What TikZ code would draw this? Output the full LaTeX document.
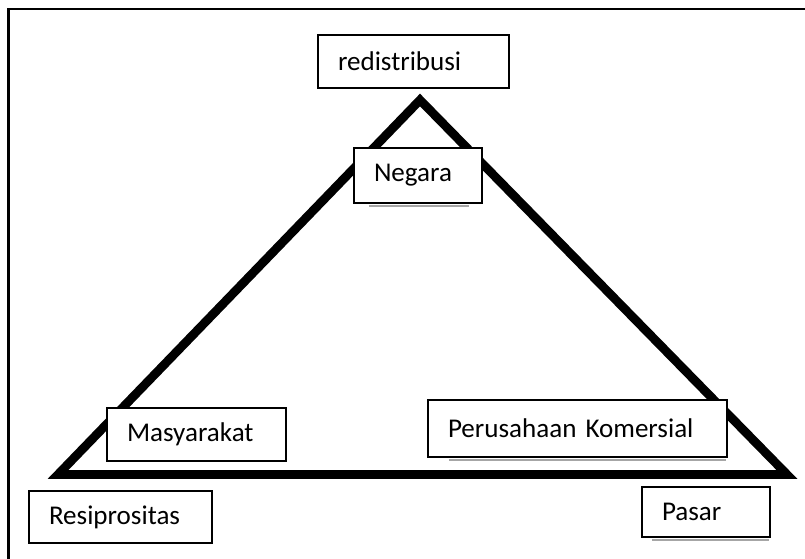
\documentclass[tikz,border=0pt]{standalone}
\usepackage{fontspec}
\setmainfont{Carlito}
\begin{document}
\begin{tikzpicture}[x=0.75pt,y=-0.75pt]
\tikzset{
  lblbox/.style={draw=black, line width=1.1pt, fill=white, inner xsep=15pt, inner ysep=0pt,
    align=left, font=\fontsize{20.3}{24}\selectfont, anchor=center},
  tri/.style={draw=black, line width=6.6pt, line join=miter, miter limit=20},
  frame/.style={draw=black, line width=1.6pt},
  shade/.style={draw=black!35, line width=1.5pt}
}
\useasboundingbox (0,0) rectangle (805,559);
\draw[frame] (805,9) -- (8.5,9) -- (8.5,559);
\coordinate (apex) at (420,100);
\coordinate (bl) at (58,474.5);
\coordinate (br) at (787,474.5);
\draw[tri] (apex) -- (br) -- (bl) -- cycle;
\node[lblbox, text width=113.25pt, minimum height=39.75pt] (red) at (413.5,61.5) {redistribusi};
\node[lblbox, text width=66pt, minimum height=41.25pt] (neg) at (418,175.5) {Negara};
\node[lblbox, text width=104.25pt, minimum height=39.75pt] (mas) at (196.5,434.5) {Masyarakat};
\node[lblbox, text width=107.25pt, minimum height=39pt] (res) at (120.5,517) {Resiprositas};
\node[lblbox, text width=194.25pt, minimum height=42.75pt] (per) at (577.5,428.5) {Perusahaan Komersial};
\node[lblbox, text width=66pt, minimum height=37.5pt] (pas) at (706,512) {Pasar};
\draw[shade] ([xshift=12pt,yshift=-2pt]neg.south west) -- ([xshift=-10pt,yshift=-2pt]neg.south east);
\draw[shade] ([xshift=16pt,yshift=-2pt]per.south west) -- ([xshift=-1pt,yshift=-2pt]per.south east);
\draw[shade] ([xshift=8pt,yshift=-2pt]pas.south west) -- ([xshift=-1pt,yshift=-2pt]pas.south east);
\end{tikzpicture}
\end{document}
